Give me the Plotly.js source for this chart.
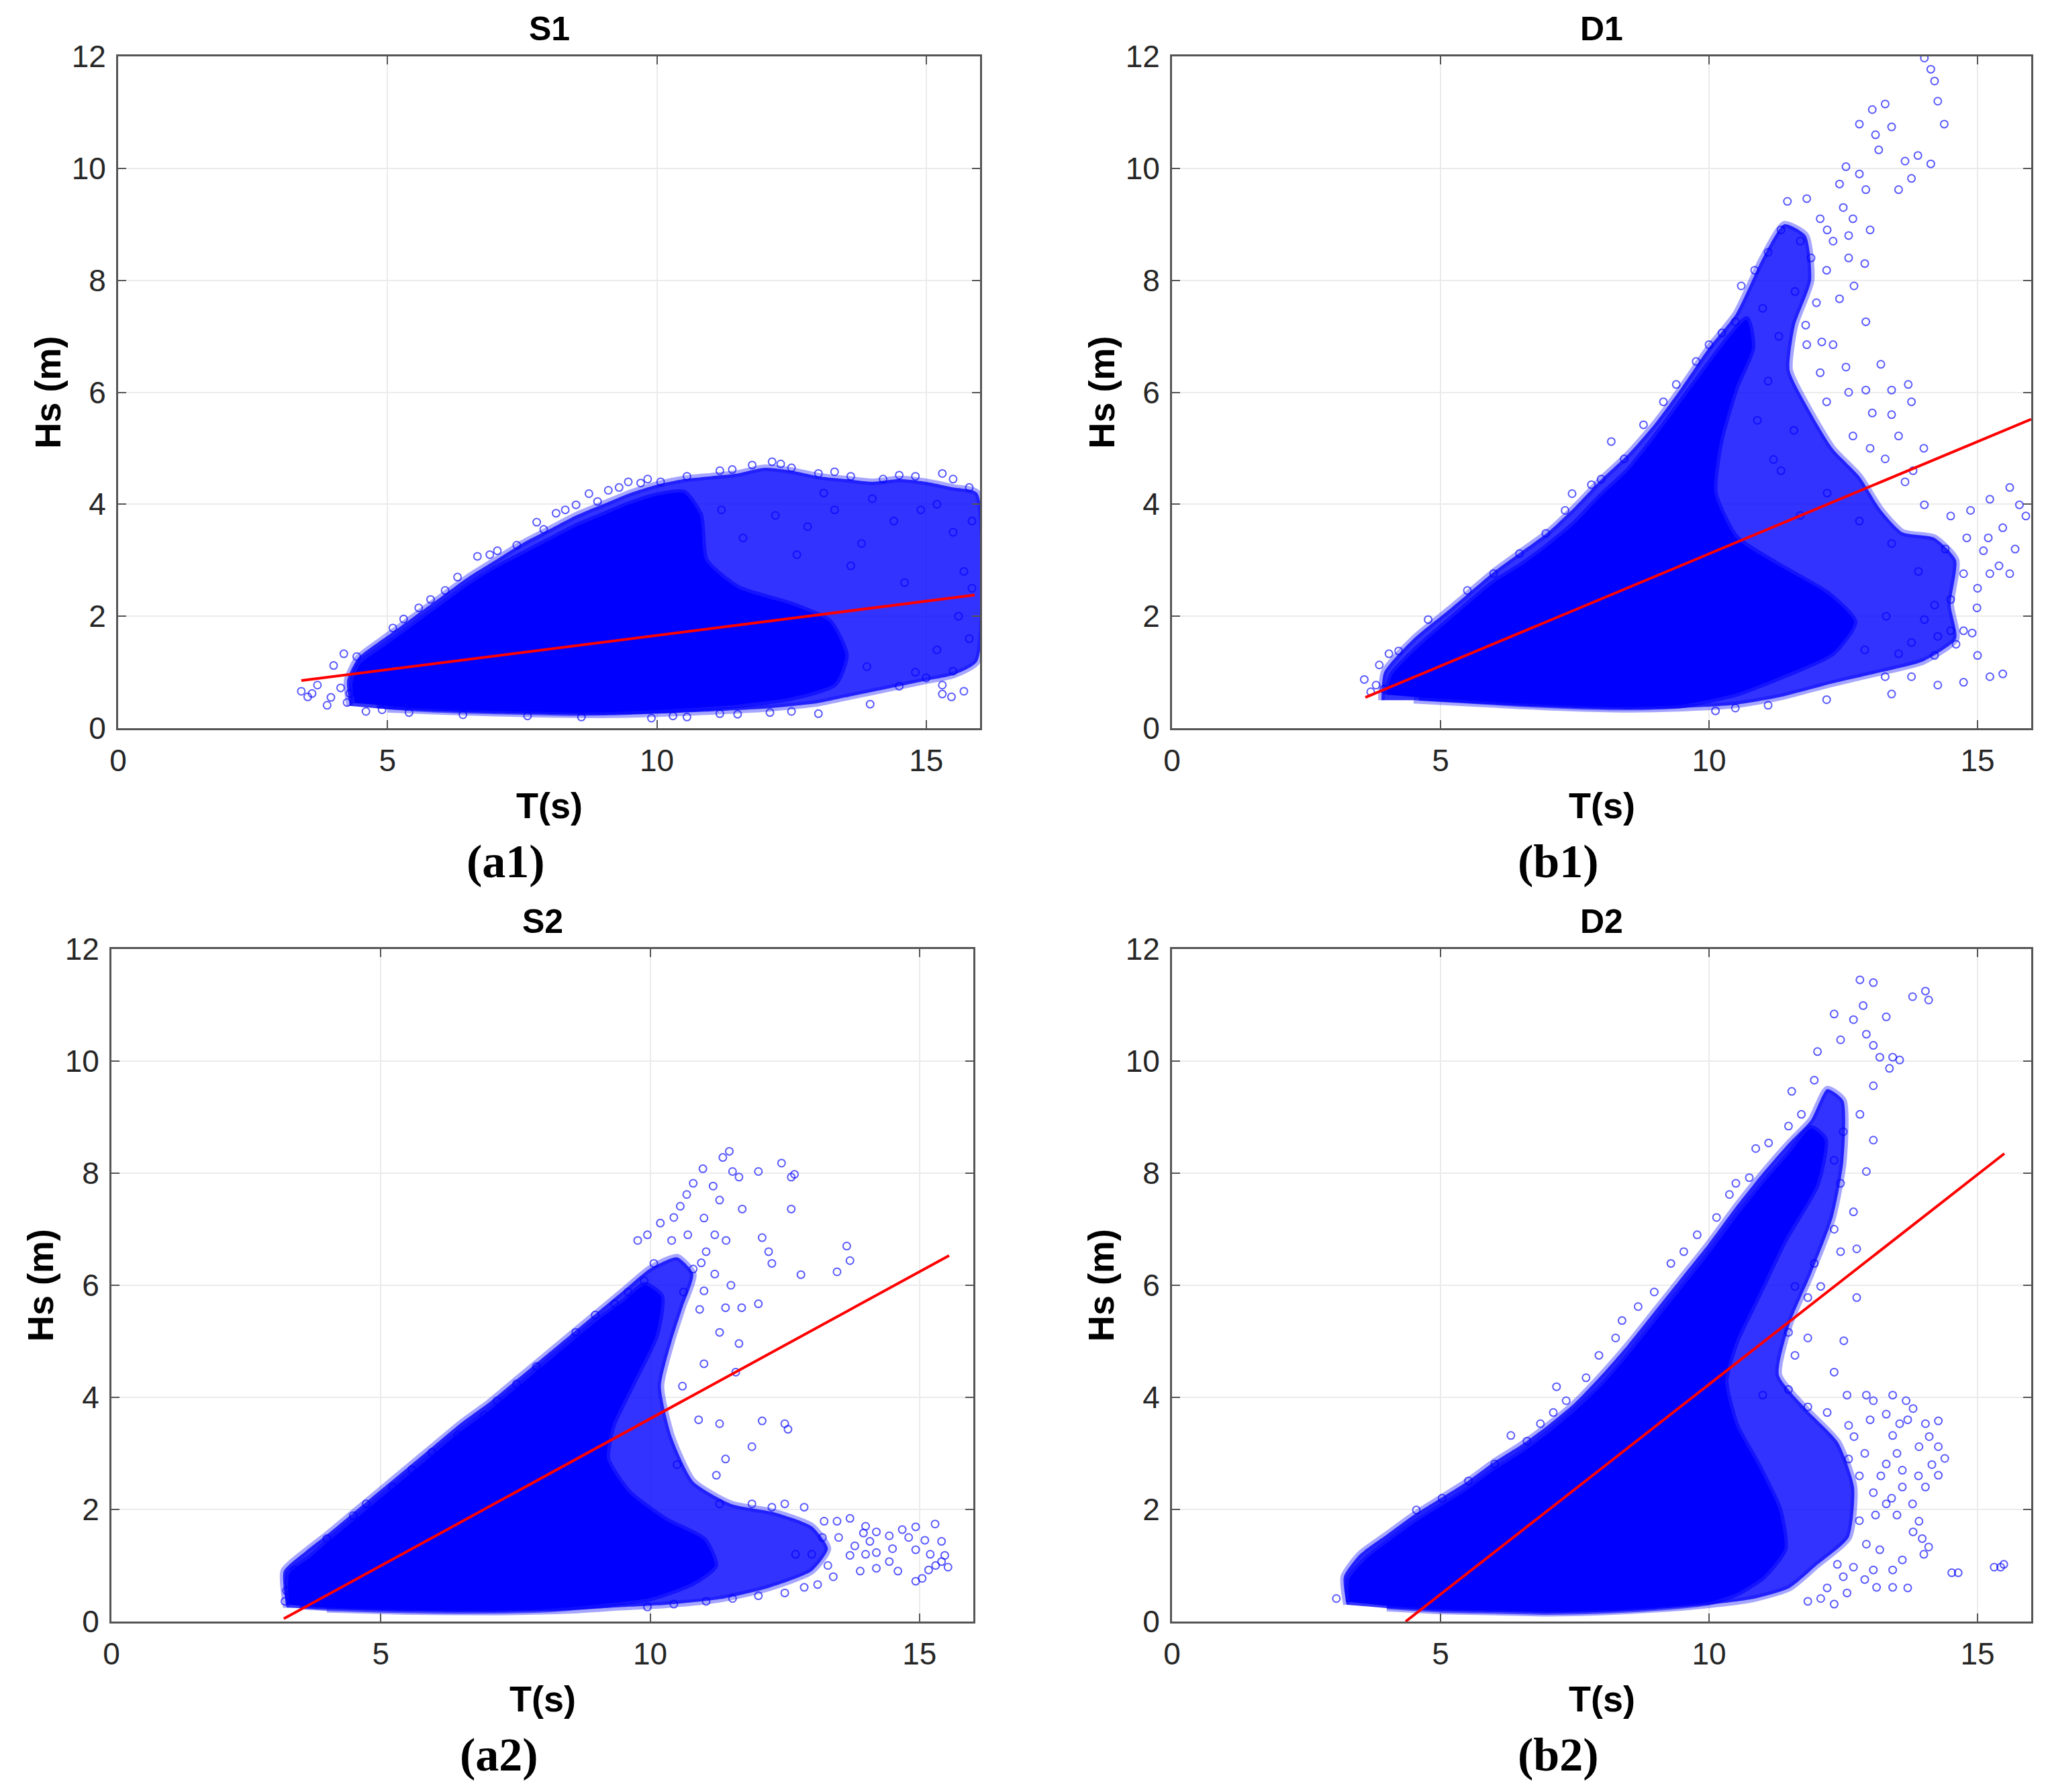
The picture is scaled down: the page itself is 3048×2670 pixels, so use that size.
<!DOCTYPE html>
<html>
<head>
<meta charset="utf-8">
<script src="https://cdn.plot.ly/plotly-3.0.1.min.js"></script>
<style>
  html, body { margin: 0; padding: 0; background: #fff; }
  #plot { width: 3048px; height: 2670px; }
</style>
</head>
<body>
<div id="plot"></div>
<script>
// Hs against T for the four sites, MATLAB-style 2x2 figure

const panelTitles = ['S1', 'D1', 'S2', 'D2'];
const panelLabels = ['(a1)', '(b1)', '(a2)', '(b2)'];
const xTicks = [0, 5, 10, 15];
const yTicks = [0, 2, 4, 6, 8, 10, 12];

// red fitted lines, [T, Hs] end points
const a1Fit = [[3.4, 0.85], [15.9, 2.38]];
const b1Fit = [[3.6, 0.55], [16.0, 5.52]];
const a2Fit = [[3.2, 0.05], [15.55, 6.53]];
const b2Fit = [[4.35, 0.0], [15.5, 8.35]];

// outline of the saturated part of each cloud (where the circles merge)
const a1Core = [[4.4,0.45],[4.35,0.8],[4.5,1.15],[5.0,1.5],[5.5,1.85],[6.0,2.2],[6.5,2.55],[7.0,2.85],[7.5,3.1],[8.0,3.35],[8.5,3.6],[9.0,3.8],[9.5,4.0],[10.0,4.15],[10.5,4.2],[10.8,3.8],[10.9,3.0],[11.5,2.5],[12.5,2.2],[13.2,1.9],[13.5,1.3],[13.3,0.8],[12.5,0.55],[11.5,0.42],[10.5,0.35],[9.5,0.3],[8.5,0.28],[7.5,0.3],[6.5,0.32],[5.5,0.36],[4.8,0.42]];
const b1Core = [[4.0,0.6],[4.1,0.95],[4.6,1.45],[5.2,1.95],[6.0,2.6],[6.5,2.9],[7.0,3.25],[7.5,3.65],[8.0,4.15],[8.5,4.6],[9.0,5.2],[9.5,5.85],[10.0,6.5],[10.4,7.0],[10.7,7.3],[10.8,6.8],[10.5,6.1],[10.2,5.1],[10.1,4.2],[10.5,3.4],[11.3,2.9],[12.2,2.4],[12.7,1.9],[12.3,1.35],[11.4,0.95],[10.5,0.62],[9.5,0.42],[8.5,0.38],[7.5,0.4],[6.5,0.44],[5.5,0.5],[4.6,0.55]];
const a2Core = [[3.3,0.3],[3.3,0.85],[3.7,1.15],[4.0,1.4],[4.5,1.8],[5.0,2.2],[5.5,2.6],[6.0,3.0],[6.5,3.4],[7.0,3.75],[7.5,4.15],[8.0,4.55],[8.5,4.95],[9.0,5.35],[9.5,5.7],[9.9,6.0],[10.2,5.8],[10.1,5.1],[9.7,4.3],[9.3,3.5],[9.2,2.9],[9.6,2.3],[10.3,1.8],[11.0,1.45],[11.2,1.0],[10.8,0.7],[10.0,0.42],[9.0,0.3],[8.0,0.22],[7.0,0.2],[6.0,0.2],[5.0,0.22],[4.0,0.25],[3.5,0.28]];
const b2Core = [[3.3,0.35],[3.3,0.75],[3.6,1.1],[4.0,1.4],[4.5,1.75],[5.0,2.05],[5.5,2.35],[6.0,2.7],[6.5,3.0],[7.0,3.35],[7.5,3.75],[8.0,4.2],[8.5,4.75],[9.0,5.35],[9.5,5.95],[10.0,6.55],[10.5,7.2],[11.0,7.8],[11.5,8.35],[11.9,8.8],[12.15,8.6],[12.0,7.8],[11.4,6.8],[10.9,5.8],[10.5,5.0],[10.3,4.3],[10.5,3.5],[10.9,2.8],[11.3,2.0],[11.4,1.3],[11.0,0.8],[10.5,0.5],[10.0,0.35],[9.0,0.25],[8.0,0.2],[7.0,0.18],[6.0,0.2],[5.0,0.22],[4.0,0.28]];

// outer envelope of each cloud: the mottled, half-covered zone round the core
const a1Mid = [[4.3,0.4],[4.25,0.85],[4.45,1.25],[5.0,1.65],[5.5,2.0],[6.0,2.35],[6.5,2.7],[7.0,3.0],[7.5,3.3],[8.0,3.55],[8.5,3.8],[9.0,4.0],[9.5,4.2],[10.0,4.35],[10.5,4.45],[11.0,4.5],[11.5,4.55],[12.0,4.65],[12.5,4.6],[13.0,4.5],[13.5,4.45],[14.0,4.4],[14.5,4.45],[15.0,4.4],[15.5,4.3],[15.95,4.2],[15.95,1.2],[15.5,0.95],[15.0,0.85],[14.5,0.75],[14.0,0.65],[13.5,0.55],[13.0,0.45],[12.0,0.35],[11.0,0.3],[10.0,0.26],[9.0,0.24],[8.0,0.25],[7.0,0.27],[6.0,0.3],[5.0,0.34]];
const b1Mid = [[3.9,0.5],[3.95,1.0],[4.5,1.6],[5.2,2.15],[6.0,2.8],[6.5,3.15],[7.0,3.5],[7.5,3.95],[8.0,4.45],[8.5,4.9],[9.0,5.45],[9.5,6.1],[10.0,6.8],[10.5,7.4],[11.0,8.4],[11.4,9.0],[11.8,8.8],[11.9,8.0],[11.6,7.2],[11.5,6.4],[11.8,5.8],[12.3,5.0],[12.8,4.5],[13.2,3.9],[13.6,3.5],[14.2,3.4],[14.6,3.0],[14.5,2.2],[14.6,1.6],[14.0,1.2],[13.2,1.0],[12.3,0.8],[11.3,0.55],[10.5,0.42],[9.5,0.36],[8.5,0.34],[7.5,0.36],[6.5,0.4],[5.5,0.45],[4.5,0.5]];
const a2Mid = [[3.25,0.25],[3.2,0.9],[3.6,1.25],[4.0,1.55],[4.5,1.95],[5.0,2.35],[5.5,2.75],[6.0,3.15],[6.5,3.55],[7.0,3.9],[7.5,4.3],[8.0,4.7],[8.5,5.1],[9.0,5.5],[9.5,5.9],[10.0,6.3],[10.5,6.5],[10.8,6.2],[10.6,5.6],[10.4,5.0],[10.2,4.2],[10.4,3.3],[10.8,2.5],[11.5,2.1],[12.3,1.95],[13.0,1.7],[13.3,1.3],[13.0,0.9],[12.2,0.6],[11.3,0.4],[10.3,0.3],[9.5,0.26],[8.5,0.2],[7.0,0.17],[5.5,0.18],[4.0,0.22]];
const b2Mid = [[3.25,0.3],[3.2,0.8],[3.5,1.2],[4.0,1.55],[4.5,1.9],[5.0,2.2],[5.5,2.5],[6.0,2.85],[6.5,3.15],[7.0,3.5],[7.5,3.9],[8.0,4.4],[8.5,4.95],[9.0,5.55],[9.5,6.15],[10.0,6.75],[10.5,7.4],[11.0,8.0],[11.5,8.55],[11.9,8.95],[12.2,9.5],[12.5,9.3],[12.5,8.2],[12.3,7.2],[11.9,6.2],[11.5,5.3],[11.3,4.4],[11.8,3.8],[12.4,3.2],[12.7,2.4],[12.6,1.5],[12.0,1.0],[11.5,0.6],[10.8,0.4],[10.0,0.3],[9.0,0.22],[8.0,0.17],[7.0,0.15],[6.0,0.17],[5.0,0.19],[4.0,0.24]];

// single circles that stand apart from the mass
const a1Pts = [[3.4,0.66],[3.52,0.56],[3.7,0.77],[3.88,0.41],[4.0,1.12],[4.13,0.72],[4.25,0.46],[4.19,1.33],[4.43,1.28],[4.6,0.3],[3.6,0.62],[3.95,0.55],[4.3,0.62],
  [5.1,1.79],[5.58,2.15],[6.07,2.46],[6.67,3.07],[7.04,3.17],[7.4,3.27],[7.77,3.68],[8.13,3.84],[8.5,3.99],[8.74,4.19],[9.1,4.25],[9.47,4.4],[9.83,4.45],[10.07,4.4],[6.3,2.7],[7.9,3.55],[8.9,4.05],
  [10.56,4.5],[11.17,4.6],[11.77,4.7],[12.14,4.76],[12.5,4.65],[13.0,4.55],[13.6,4.5],[14.2,4.45],[14.8,4.5],[15.3,4.55],[15.8,4.3],[15.5,4.45],[12.3,4.72],
  [10.56,0.2],[11.17,0.26],[12.5,0.3],[13.0,0.26],[13.96,0.43],[15.3,0.77],[15.3,0.61],[15.47,0.56],[15.7,0.66],[15.5,1.02],[9.9,0.18],[10.3,0.22],[11.5,0.25],[12.1,0.28],[14.5,0.75],[15.0,0.9],
  [12.2,3.8],[12.8,3.6],[13.3,3.9],[13.8,3.3],[14.4,3.7],[14.9,3.9],[15.5,3.5],[15.7,2.8],[14.6,2.6],[13.6,2.9],[12.6,3.1],[11.6,3.4],[11.2,3.9],[15.2,1.4],[14.8,1.0],[13.9,1.1],[15.6,2.0],[15.8,1.6],[13.1,4.2],[14.0,4.1],[15.2,4.0],[15.85,3.7],[15.85,2.5],
  [5.3,1.95],[5.8,2.3],[6.9,3.1],[8.3,3.9],[9.3,4.3],[9.7,4.38],[11.4,4.62],[13.3,4.58],[14.5,4.52],[7.6,0.22],[8.6,0.2],[6.4,0.24],[5.4,0.28],[4.9,0.33]];
const b1Pts = [[3.58,0.87],[3.86,1.13],[4.04,1.33],[3.8,0.77],[4.22,1.38],[3.7,0.65],[3.95,0.7],
  [4.77,1.94],[5.5,2.46],[5.99,2.76],[6.47,3.12],[6.96,3.48],[7.32,3.89],[7.45,4.19],[7.81,4.35],[7.99,4.45],[8.18,5.12],[8.42,4.81],[8.78,5.42],[9.15,5.83],[9.39,6.14],[9.76,6.55],[10.0,6.85],[10.24,7.06],[10.49,7.26],
  [10.6,7.9],[10.85,8.18],[11.1,8.5],[11.34,8.9],[11.46,9.41],[11.82,9.46],[11.7,8.7],[12.07,9.1],[12.43,9.72],[12.55,10.03],[12.8,10.79],[13.04,11.05],[13.28,11.15],[13.4,10.74],[13.16,10.33],[12.92,9.62],[12.68,9.1],[12.31,8.7],[12.19,8.18],[12.43,7.67],[12.92,7.26],[13.65,10.13],[13.77,9.82],[14.13,11.77],[14.2,11.56],[14.26,11.2],[14.38,10.79],[14.13,10.08],[13.89,10.23],[13.53,9.62],[14.01,11.97],
  [11.82,6.85],[12.31,6.85],[12.55,6.45],[12.92,6.04],[13.4,6.04],[13.71,6.14],[13.77,5.83],[13.53,5.22],[13.04,5.63],[12.68,5.22],[12.19,5.83],[12.07,6.35],[11.58,5.32],[11.34,4.6],[13.28,4.81],[13.65,4.4],[14.01,3.99],[14.5,3.79],[14.87,3.89],[15.23,4.09],[15.6,4.3],[15.78,3.99],[15.9,3.79],[15.47,3.58],[15.11,3.17],[14.74,2.76],[15.23,2.76],[15.6,2.76],[14.99,2.15],[14.74,1.74],[14.5,1.74],[14.26,1.64],[14.01,1.94],[13.77,1.53],[13.53,1.33],[13.28,0.92],[13.77,0.92],[14.26,0.77],[14.74,0.82],[15.23,0.92],[15.47,0.97],[13.4,0.61],[12.19,0.51],[11.1,0.41],[10.49,0.36],[10.12,0.31],
  [11.0,7.5],[11.3,7.0],[11.1,6.2],[11.6,7.8],[12.0,7.6],[12.6,8.4],[13.0,8.9],[12.2,4.2],[12.8,3.7],[13.4,3.3],[13.9,2.8],[14.2,2.2],[13.3,2.0],[12.9,1.4],[11.7,3.8],[11.2,4.8],[10.9,5.5],
  [11.9,8.4],[12.2,8.9],[12.5,9.3],[12.8,9.9],[13.1,10.6],[12.6,8.8],[12.9,8.3],[12.7,7.9],[11.8,7.2],[12.1,6.9],[13.2,6.5],[13.4,5.6],[12.6,6.0],[13.0,5.0],[14.0,5.0],[13.8,4.6],
  [14.9,1.7],[14.6,1.5],[15.0,1.3],[14.2,1.3],[14.5,2.3],[15.0,2.5],[15.4,2.9],[15.7,3.2],[15.2,3.4],[14.8,3.4],[14.4,3.2]];
const a2Pts = [[3.22,0.36],[3.4,0.92],[3.46,0.72],[3.25,0.55],
  [4.0,1.48],[4.49,1.89],[4.73,2.1],[5.22,2.4],[5.58,2.71],[5.95,3.02],[6.43,3.32],[6.92,3.68],[7.16,3.94],[7.52,4.24],[7.89,4.55],[8.37,4.75],[8.62,5.16],[8.98,5.47],[9.34,5.67],[9.59,5.88],[9.89,6.08],[10.07,6.39],
  [9.77,6.8],[9.95,6.9],[10.19,7.11],[10.44,7.21],[10.56,7.41],[10.68,7.62],[10.8,7.82],[10.98,8.08],[11.17,7.77],[11.29,7.52],[11.53,8.03],[11.47,8.39],[11.35,8.28],[11.65,7.93],[11.71,7.36],[11.41,6.8],[11.04,6.6],[10.8,6.29],[10.62,5.88],[10.92,5.57],[11.29,5.16],[11.65,4.96],[11.59,4.45],[12.01,8.03],[12.08,6.85],[12.2,6.6],[12.26,6.39],[12.44,8.18],[12.62,7.93],[12.62,7.36],[12.68,7.98],[12.8,6.19],[12.01,5.67],[13.65,6.7],[13.71,6.44],[13.47,6.24],[12.08,3.58],[12.5,3.53],[12.56,3.43],[11.89,3.12],[11.29,3.53],[11.23,2.61],
  [11.29,2.1],[11.89,2.1],[12.26,2.04],[12.5,2.1],[12.86,2.04],[13.23,1.79],[13.47,1.79],[13.71,1.84],[13.96,1.58],[14.44,1.53],[14.68,1.64],[14.93,1.69],[15.29,1.74],[15.41,1.43],[15.47,1.18],[15.53,0.97],[15.17,0.92],[15.05,0.77],[14.93,0.72],[14.44,1.07],[14.2,1.23],[13.71,1.18],[13.11,0.66],[12.86,0.61],[12.5,0.51],[12.01,0.46],[11.53,0.41],[11.04,0.36],[10.44,0.31],[9.95,0.26],[15.41,1.07],[14.93,1.28],[14.08,1.43],
  [10.6,4.2],[10.9,3.6],[11.0,4.6],[10.5,2.8],[11.4,2.9],[13.5,1.5],[14.0,1.7],[12.7,1.2],[13.3,1.0],
  [13.2,1.5],[13.8,1.35],[14.2,1.6],[14.5,1.3],[14.8,1.5],[15.1,1.45],[15.2,1.2],[15.3,1.0],[14.6,0.9],[14.2,0.95],[13.9,0.9],[13.4,0.8],[13.0,1.2],[14.0,1.2],
  [10.4,6.8],[10.7,6.9],[11.0,7.2],[11.2,6.9],[10.95,6.4],[11.2,6.2],[11.5,6.0],[11.7,5.6],[11.4,5.6],[11.0,5.9]];
const b2Pts = [[3.06,0.41],[3.39,0.72],[3.51,0.87],[3.7,1.07],[4.0,1.28],[3.82,0.51],
  [4.55,1.99],[5.03,2.2],[5.52,2.51],[6.01,2.81],[6.31,3.32],[6.61,3.22],[6.86,3.53],[7.1,3.73],[7.16,4.19],[7.34,3.94],[7.71,4.35],[7.95,4.75],[8.26,5.06],[8.38,5.37],[8.68,5.62],[8.98,5.88],[9.29,6.39],[9.53,6.6],[9.78,6.9],[10.14,7.21],[10.38,7.62],[10.5,7.82],[10.75,7.92],[10.87,8.44],[11.11,8.54],[11.48,8.84],[11.54,9.46],[11.72,9.05],[11.96,9.66],[12.02,10.17],
  [12.33,10.84],[12.45,10.38],[12.69,10.74],[12.81,11.45],[12.87,10.99],[12.93,10.48],[13.06,11.4],[13.06,10.28],[13.18,10.07],[13.3,10.79],[13.42,10.07],[13.55,10.02],[13.36,9.87],[13.79,11.15],[14.03,11.25],[14.09,11.09],[13.06,9.56],[13.06,8.59],[12.81,9.05],[12.5,8.74],[12.33,8.23],[12.45,7.82],[12.69,7.31],[12.93,8.03],[12.33,7.0],[11.96,6.39],[12.45,6.6],[12.75,6.65],[11.6,5.98],[11.84,5.78],[12.08,5.98],[12.75,5.78],[11.48,5.16],[11.84,5.06],[12.51,5.01],[11.6,4.75],[12.33,4.45],
  [11.0,4.04],[11.48,4.14],[11.84,3.83],[12.57,4.04],[12.2,3.73],[12.93,4.04],[13.06,3.94],[13.42,4.04],[13.67,3.94],[13.55,3.53],[14.03,3.53],[14.27,3.58],[13.91,3.12],[14.27,3.12],[14.39,2.91],[14.27,2.61],[14.03,2.4],[13.79,2.1],[13.91,1.79],[13.97,1.48],[14.09,1.33],[13.42,3.32],[13.3,2.81],[13.06,2.3],[13.3,2.1],[12.93,1.38],[13.18,1.28],[12.69,0.97],[13.06,0.92],[13.42,0.92],[13.12,0.61],[13.42,0.61],[12.57,0.51],[12.08,0.41],[11.84,0.36],[12.33,0.31],[14.52,0.87],[14.64,0.87],[15.31,0.97],[15.43,0.97],[15.49,1.02],[12.39,1.02],
  [12.9,3.0],[13.2,2.6],[12.8,1.8],[13.6,2.7],[13.7,3.6],[12.6,3.5],[13.5,1.9],
  [12.7,3.3],[13.0,3.6],[13.3,3.7],[13.8,3.8],[14.1,3.3],[14.15,2.8],[13.9,2.6],[13.6,2.4],[13.4,2.2],[13.1,1.9],[12.8,2.6],[12.6,2.9],[13.5,3.0],[13.8,1.6],[14.0,1.2],[13.6,1.1],[12.9,0.75],[12.5,0.8],[12.2,0.6],[13.7,0.6]];

const clouds = [
  { core: a1Core, mid: a1Mid, pts: a1Pts, fit: a1Fit },
  { core: b1Core, mid: b1Mid, pts: b1Pts, fit: b1Fit },
  { core: a2Core, mid: a2Mid, pts: a2Pts, fit: a2Fit },
  { core: b2Core, mid: b2Mid, pts: b2Pts, fit: b2Fit }
];

// figure geometry in pixels: [left, top, right, bottom] of each axes box
const W = 3048, H = 2670;
const boxes = [
  [176, 84, 1460, 1085],
  [1746, 84, 3026, 1085],
  [166, 1414, 1450, 2416],
  [1746, 1414, 3026, 2416]
];
const px = v => v / W;
const py = v => 1 - v / H;

const blue = '#0000ff';
const traces = [];
const layout = {
  width: W,
  height: H,
  margin: { l: 0, r: 0, t: 0, b: 0 },
  paper_bgcolor: '#ffffff',
  plot_bgcolor: '#ffffff',
  showlegend: false,
  font: { family: 'Liberation Sans, Arial, sans-serif', color: '#262626' },
  annotations: []
};

clouds.forEach((c, i) => {
  const n = i === 0 ? '' : String(i + 1);
  const xa = 'x' + n, ya = 'y' + n;
  const b = boxes[i];

  traces.push({
    x: c.mid.map(p => p[0]), y: c.mid.map(p => p[1]),
    xaxis: xa, yaxis: ya,
    type: 'scatter', mode: 'lines', fill: 'toself',
    fillcolor: 'rgba(0,0,255,0.8)',
    line: { color: 'rgba(0,0,255,0.35)', width: 10, shape: 'spline', smoothing: 0.6 },
    hoverinfo: 'skip'
  });
  traces.push({
    x: c.core.map(p => p[0]), y: c.core.map(p => p[1]),
    xaxis: xa, yaxis: ya,
    type: 'scatter', mode: 'lines', fill: 'toself',
    fillcolor: blue,
    line: { color: 'rgba(0,0,255,0.6)', width: 10, shape: 'spline', smoothing: 0.6 },
    hoverinfo: 'skip'
  });
  traces.push({
    x: c.pts.map(p => p[0]), y: c.pts.map(p => p[1]),
    xaxis: xa, yaxis: ya,
    type: 'scatter', mode: 'markers',
    marker: { symbol: 'circle-open', size: 11, color: 'rgba(0,0,255,0.65)', line: { width: 2 } },
    cliponaxis: true,
    hoverinfo: 'skip'
  });
  traces.push({
    x: c.fit.map(p => p[0]), y: c.fit.map(p => p[1]),
    xaxis: xa, yaxis: ya,
    type: 'scatter', mode: 'lines',
    line: { color: '#ff0000', width: 4 },
    hoverinfo: 'skip'
  });

  const axisCommon = {
    showline: true, mirror: 'ticks', linecolor: '#555555', linewidth: 3,
    ticks: 'inside', ticklen: 12, tickwidth: 2, tickcolor: '#555555',
    showgrid: true, gridcolor: '#ebebeb', gridwidth: 2,
    zeroline: false,
    tickfont: { family: 'Liberation Sans, Arial, sans-serif', size: 46, color: '#262626' },
    fixedrange: true
  };
  layout['xaxis' + n] = Object.assign({}, axisCommon, {
    domain: [px(b[0]), px(b[2])],
    anchor: ya,
    range: [0, 16],
    tickvals: xTicks,
    ticklabelstandoff: 6
  });
  layout['yaxis' + n] = Object.assign({}, axisCommon, {
    domain: [py(b[3]), py(b[1])],
    anchor: xa,
    range: [0, 12],
    tickvals: yTicks,
    ticklabelstandoff: 6
  });

  const cx = (b[0] + b[2]) / 2;
  const cy = (b[1] + b[3]) / 2;
  const titleFont = { family: 'Liberation Sans, Arial, sans-serif', size: 50, color: '#000000' };
  const axFont = { family: 'Liberation Sans, Arial, sans-serif', size: 54, color: '#000000' };
  layout.annotations.push(
    { text: '<b>' + panelTitles[i] + '</b>', x: px(cx), y: py(b[1] - 41), xref: 'paper', yref: 'paper',
      xanchor: 'center', yanchor: 'middle', showarrow: false, font: titleFont },
    { text: '<b>T(s)</b>', x: px(cx), y: py(b[3] + 115), xref: 'paper', yref: 'paper',
      xanchor: 'center', yanchor: 'middle', showarrow: false, font: axFont },
    { text: '<b>Hs (m)</b>', x: px(b[0] - 106), y: py(cy), xref: 'paper', yref: 'paper',
      xanchor: 'center', yanchor: 'middle', textangle: -90, showarrow: false, font: axFont },
    { text: '<b>' + panelLabels[i] + '</b>', x: px(cx - 65), y: py(b[3] + 198), xref: 'paper', yref: 'paper',
      xanchor: 'center', yanchor: 'middle', showarrow: false,
      font: { family: 'Liberation Serif, Times New Roman, serif', size: 70, color: '#000000' } }
  );
});

Plotly.newPlot('plot', traces, layout, { displayModeBar: false, staticPlot: true });
</script>
</body>
</html>
